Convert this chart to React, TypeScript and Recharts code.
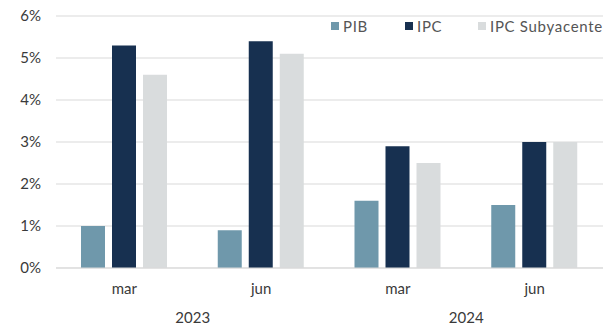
import React from 'react';
import { BarChart, Bar, XAxis, YAxis, CartesianGrid, Legend } from 'recharts';

const months = ['mar', 'jun', 'mar', 'jun'];
const years = ['2023', '2023', '2024', '2024'];
const pib = [1.0, 0.9, 1.6, 1.5];
const ipc = [5.3, 5.4, 2.9, 3.0];
const ipcSub = [4.6, 5.1, 2.5, 3.0];
const yTicks = [0, 1, 2, 3, 4, 5, 6];

const series = [
  { key: 'pib', name: 'PIB', color: '#6f98ab' },
  { key: 'ipc', name: 'IPC', color: '#173050' },
  { key: 'sub', name: 'IPC Subyacente', color: '#d9dcdd' },
];

const data = months.map((m, i) => ({
  month: m,
  year: years[i],
  pib: pib[i],
  ipc: ipc[i],
  sub: ipcSub[i],
}));

const FONT = 'Lato, "Open Sans", sans-serif';
const TEXT = '#3a3a3a';

// legend entries sit at fixed offsets from the legend's left edge
const legendOffsets = [0, 74, 147];

function LegendBox() {
  return (
    <div style={{ position: 'relative', width: 280, height: 20, fontFamily: FONT, fontSize: 15, color: '#555', letterSpacing: 0.7 }}>
      {series.map((s, i) => (
        <div key={s.key} style={{ position: 'absolute', left: legendOffsets[i], top: 0, display: 'flex', alignItems: 'center', whiteSpace: 'nowrap' }}>
          <span style={{ width: 8, height: 8, background: s.color, display: 'inline-block', marginRight: 4 }} />
          <span>{s.name}</span>
        </div>
      ))}
    </div>
  );
}

export default function App() {
  return (
    <div style={{ position: 'fixed', left: 0, top: 0, background: '#fff' }}>
      <BarChart
        width={612}
        height={328}
        data={data}
        margin={{ top: 16, right: 9, left: 0, bottom: 0 }}
        barCategoryGap={25}
        barGap={7}
      >
        <CartesianGrid vertical={false} stroke="#d9d9d9" strokeWidth={1} />
        <XAxis
          dataKey="month"
          axisLine={{ stroke: '#d9d9d9' }}
          tickLine={false}
          tickSize={0}
          tickMargin={15}
          height={28}
          tick={{ fill: TEXT, fontSize: 15, fontFamily: FONT }}
        />
        <XAxis
          xAxisId="year"
          dataKey="year"
          allowDuplicatedCategory={false}
          axisLine={false}
          tickLine={false}
          tickSize={0}
          tickMargin={16}
          height={32}
          tick={{ fill: TEXT, fontSize: 15, fontFamily: FONT }}
        />
        <YAxis
          domain={[0, 6]}
          ticks={yTicks}
          tickFormatter={(v) => `${v}%`}
          axisLine={false}
          tickLine={false}
          tickSize={0}
          tickMargin={15}
          width={56}
          tick={{ fill: TEXT, fontSize: 15, fontFamily: FONT }}
        />
        <Legend
          verticalAlign="middle"
          align="center"
          content={() => <LegendBox />}
          wrapperStyle={{ top: 17, left: 331, width: 'auto' }}
        />
        {series.map((s) => (
          <Bar key={s.key} dataKey={s.key} name={s.name} fill={s.color} barSize={24} isAnimationActive={false} />
        ))}
      </BarChart>
    </div>
  );
}
